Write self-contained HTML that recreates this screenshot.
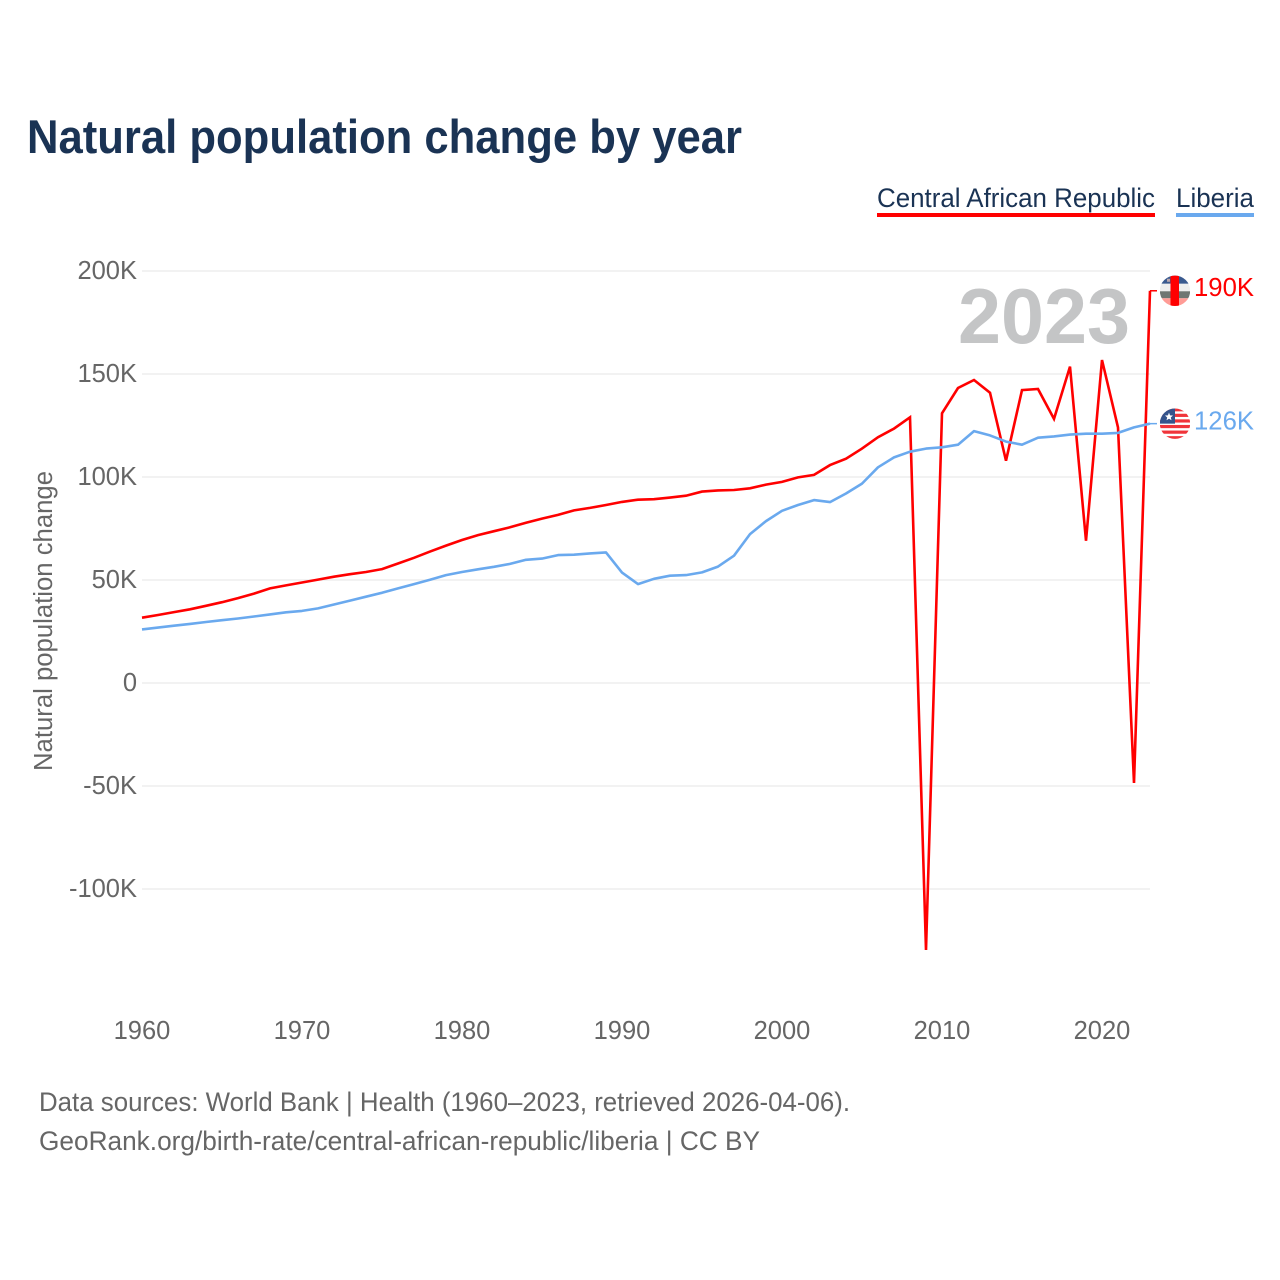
<!DOCTYPE html>
<html lang="en">
<head>
<meta charset="utf-8">
<title>Natural population change by year</title>
<style>
html,body{margin:0;padding:0;background:#fff;}
svg{display:block;font-family:"Liberation Sans",sans-serif;}
</style>
</head>
<body>
<svg id="chart" xmlns="http://www.w3.org/2000/svg" width="1280" height="1280" viewBox="0 0 1280 1280">
  <rect width="1280" height="1280" fill="#ffffff"/>
  <text x="27" y="153" font-size="47" font-weight="700" fill="#1a3354" textLength="715" lengthAdjust="spacingAndGlyphs">Natural population change by year</text>

  <g>
    <g>
      <text x="877" y="207" font-size="27" fill="#1a3354" textLength="278" lengthAdjust="spacingAndGlyphs">Central African Republic</text>
      <rect x="877" y="213" width="278" height="4" fill="#ff0000"/>
    </g>
    <g>
      <text x="1176" y="207" font-size="27" fill="#1a3354" textLength="78" lengthAdjust="spacingAndGlyphs">Liberia</text>
      <rect x="1176" y="213" width="78" height="4" fill="#6aa9ee"/>
    </g>
  </g>

  <g id="grid"></g>
  <g id="yticks"></g>
  <g id="xticks"></g>

  <text transform="translate(52,621) rotate(-90)" text-anchor="middle" font-size="25.5" fill="#666666" textLength="300" lengthAdjust="spacingAndGlyphs">Natural population change</text>

  <text id="year-label" x="1130" y="343" text-anchor="end" font-size="78" font-weight="700" fill="#c4c5c6" textLength="172" lengthAdjust="spacingAndGlyphs">2023</text>

  <g id="series"></g>

  <defs>
    <clipPath id="clip-car"><circle cx="15" cy="15.5" r="15.2"/></clipPath>
    <clipPath id="clip-lib"><circle cx="15" cy="15.5" r="15.2"/></clipPath>
  </defs>

  <g id="flag-car" clip-path="url(#clip-car)">
    <rect width="30" height="8.5" fill="#3a5a8f"/>
    <rect y="8.5" width="30" height="7.5" fill="#eeeeee"/>
    <rect y="16" width="30" height="7" fill="#6f7672"/>
    <rect y="23" width="30" height="8" fill="#ff9c96"/>
    <rect x="10.5" width="8.5" height="31" fill="#ff0000"/>
    <rect x="7" y="3.5" width="3" height="3" fill="#b9a5ab"/>
  </g>
  <g id="flag-lib" clip-path="url(#clip-lib)">
    <rect width="30" height="31" fill="#ffffff"/>
    <rect y="0" width="30" height="3.2" fill="#f0343a"/>
    <rect y="5.6" width="30" height="3.2" fill="#f0343a"/>
    <rect y="11.2" width="30" height="3.2" fill="#f0343a"/>
    <rect y="16.8" width="30" height="3.2" fill="#f0343a"/>
    <rect y="22.4" width="30" height="3.2" fill="#f0343a"/>
    <rect y="28" width="30" height="3" fill="#f0343a"/>
    <rect width="15" height="15.5" fill="#35548c"/>
    <polygon points="9,4.5 10.1,7.2 13,7.4 10.8,9.3 11.5,12.1 9,10.6 6.5,12.1 7.2,9.3 5,7.4 7.9,7.2" fill="#ffffff"/>
  </g>

  <text id="label-car" x="1194" font-size="26" fill="#ff0000" textLength="60" lengthAdjust="spacingAndGlyphs"></text>
  <text id="label-lib" x="1194" font-size="26" fill="#6aa9ee" textLength="60" lengthAdjust="spacingAndGlyphs"></text>

  <g>
    <text x="39" y="1111" font-size="26.5" fill="#666666" textLength="811" lengthAdjust="spacingAndGlyphs">Data sources: World Bank | Health (1960–2023, retrieved 2026-04-06).</text>
    <text x="39" y="1150" font-size="26.5" fill="#666666" textLength="721" lengthAdjust="spacingAndGlyphs">GeoRank.org/birth-rate/central-african-republic/liberia | CC BY</text>
  </g>
</svg>

<script>
const startYear = 1960;
const carValues = [31.7,33,34.4,35.8,37.5,39.2,41.2,43.4,45.9,47.4,48.8,50.2,51.6,52.8,53.9,55.3,58,60.8,63.8,66.7,69.4,71.8,73.7,75.6,77.8,79.8,81.6,83.8,85,86.4,87.9,89,89.2,90,90.9,92.9,93.5,93.7,94.5,96.3,97.6,99.8,101,105.8,108.9,113.8,119.3,123.5,129,-129.6,130.9,143.2,147.1,140.9,107.9,142.2,142.7,128.2,153.6,69.1,156.8,124.1,-48.5,190.4];
const liberiaValues = [26,26.9,27.8,28.7,29.6,30.5,31.3,32.3,33.3,34.3,35,36.2,38.1,40,41.9,43.8,45.9,48,50.1,52.4,53.9,55.2,56.4,57.8,59.8,60.4,62.1,62.3,62.9,63.4,53.6,48,50.6,52.1,52.4,53.7,56.5,61.8,72.3,78.6,83.6,86.4,88.8,87.8,92,96.8,104.7,109.5,112.3,113.8,114.4,115.7,122.3,120.2,117.2,115.7,119.1,119.7,120.6,121,121,121.4,124.1,125.9];
const yTickValues = [200,150,100,50,0,-50,-100];
const yTickLabels = ["200K","150K","100K","50K","0","-50K","-100K"];
const xTickYears = [1960,1970,1980,1990,2000,2010,2020];

const NS = "http://www.w3.org/2000/svg";
function xScale(year) { return 142 + (year - 1960) * 16; }
function yScale(v) { return 683 - v * 2.06; }

function make(tag, attrs, parent) {
  const el = document.createElementNS(NS, tag);
  for (const k in attrs) el.setAttribute(k, attrs[k]);
  parent.appendChild(el);
  return el;
}

const gridG = document.getElementById("grid");
const yG = document.getElementById("yticks");
const xG = document.getElementById("xticks");
const seriesG = document.getElementById("series");

yTickValues.forEach((v, i) => {
  const line = make("line", {x1: 142, x2: 1150, y1: yScale(v), y2: yScale(v), stroke: "#eeeeee", "stroke-width": 1.5}, gridG);
  
  
  const t = make("text", {x: 137, y: yScale(v) + 8, "text-anchor": "end", "font-size": 25.5, fill: "#666666"}, yG);
  t.textContent = yTickLabels[i];
  
  
});

xTickYears.forEach((yr) => {
  const t = make("text", {x: xScale(yr), y: 1039, "text-anchor": "middle", "font-size": 25.5, fill: "#666666"}, xG);
  t.textContent = String(yr);
  
  
});

function linePoints(values) {
  return values.map((v, i) => xScale(startYear + i).toFixed(1) + "," + yScale(v).toFixed(1)).join(" ");
}
function endOf(values) {
  return { x: xScale(startYear + values.length - 1), y: yScale(values[values.length - 1]) };
}

const carEnd = endOf(carValues);
const libEnd = endOf(liberiaValues);

const carLine = make("polyline", {points: linePoints(carValues), fill: "none", stroke: "#ff0000", "stroke-width": 2.6, "stroke-linejoin": "miter"}, seriesG);



const carConn = make("line", {x1: carEnd.x, x2: 1157, y1: carEnd.y, y2: carEnd.y, stroke: "#ff0000", "stroke-width": 1.5}, seriesG);



const libLine = make("polyline", {points: linePoints(liberiaValues), fill: "none", stroke: "#6aa9ee", "stroke-width": 2.6, "stroke-linejoin": "round"}, seriesG);



const libConn = make("line", {x1: libEnd.x, x2: 1157, y1: libEnd.y, y2: libEnd.y, stroke: "#6aa9ee", "stroke-width": 1.5}, seriesG);



document.getElementById("flag-car").setAttribute("transform", "translate(1160," + (carEnd.y - 15.5) + ")");
document.getElementById("flag-lib").setAttribute("transform", "translate(1160," + (libEnd.y - 15.5) + ")");

const labelCar = document.getElementById("label-car");
labelCar.setAttribute("y", carEnd.y + 5);
labelCar.textContent = Math.round(carValues[carValues.length - 1]) + "K";
const labelLib = document.getElementById("label-lib");
labelLib.setAttribute("y", libEnd.y + 6);
labelLib.textContent = Math.round(liberiaValues[liberiaValues.length - 1]) + "K";
</script>
</body>
</html>
